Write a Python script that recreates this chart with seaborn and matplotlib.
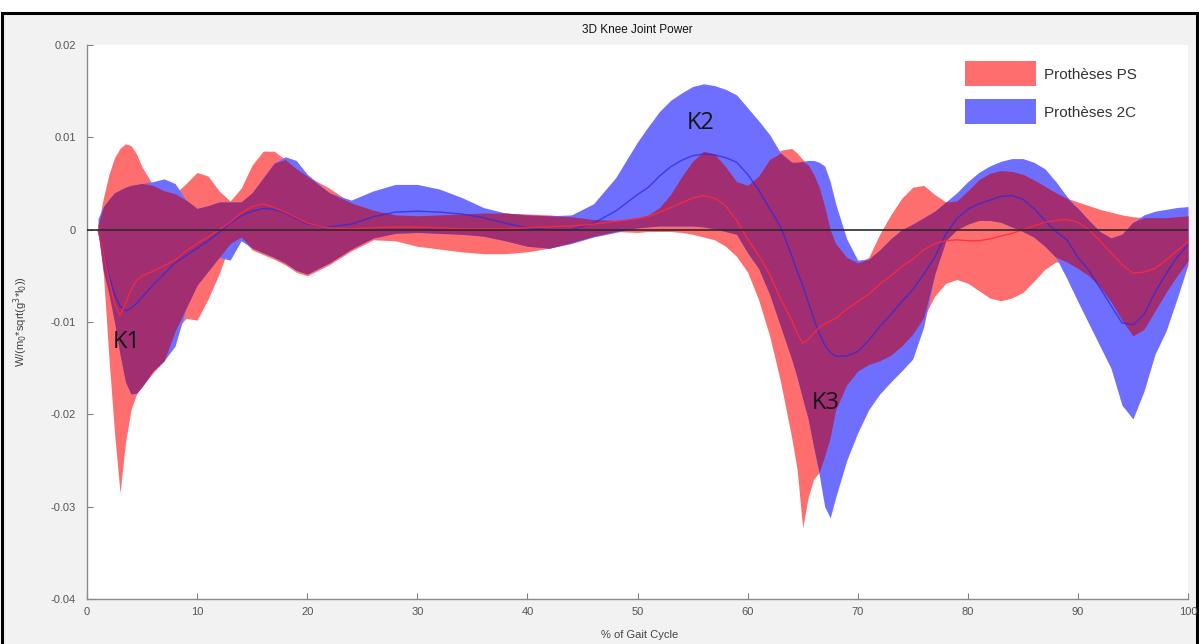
import numpy as np
import pandas as pd
import matplotlib
matplotlib.use("Agg")
import matplotlib.pyplot as plt
import seaborn as sns
from matplotlib.patches import Patch, Rectangle

# ---------------- data ----------------
gait = [1, 1.5, 2, 2.5, 3, 3.5, 4, 4.5, 5, 6, 7, 8, 9, 10, 11, 12, 13, 14, 15, 16, 17, 18, 19, 20,
        22, 24, 26, 28, 30, 32, 34, 36, 38, 40, 42, 44, 46, 48, 50,
        51, 52, 53, 54, 55, 56, 57, 58, 59, 60, 61, 62, 63, 64,
        64.5, 65, 65.5, 66, 66.5, 67, 67.5, 68,
        69, 70, 71, 72, 73, 74, 75, 76, 77, 78, 79, 80, 81, 82, 83, 84, 85, 86, 87, 88, 89, 90,
        91, 92, 93, 94, 95, 96, 97, 98, 99, 100]

ps_upper = [0.0005, 0.0035, 0.0060, 0.0078, 0.0088, 0.0093, 0.0091, 0.0082, 0.0068, 0.0048, 0.0042, 0.0039,
            0.0050, 0.0062, 0.0058, 0.0042, 0.0031, 0.0045, 0.0070, 0.0085, 0.0085, 0.0076, 0.0066, 0.0058,
            0.0045, 0.0029, 0.0021, 0.0016, 0.0015, 0.0016, 0.0017, 0.0018, 0.0018, 0.0017, 0.0016, 0.0014,
            0.0011, 0.0010, 0.0013,
            0.0016, 0.0024, 0.0038, 0.0057, 0.0074, 0.0085, 0.0082, 0.0068, 0.0052, 0.0048, 0.0058, 0.0076,
            0.0086, 0.0088,
            0.0083, 0.0076, 0.0070, 0.0060, 0.0046, 0.0025, 0.0000, -0.0015,
            -0.0030, -0.0036, -0.0030, -0.0005, 0.0016, 0.0034, 0.0046, 0.0048, 0.0038, 0.0030, 0.0031, 0.0042,
            0.0054, 0.0061, 0.0064, 0.0063, 0.0060, 0.0054, 0.0047, 0.0040, 0.0034, 0.0030,
            0.0026, 0.0022, 0.0019, 0.0016, 0.0014, 0.0013, 0.0013, 0.0013, 0.0014, 0.0015]

ps_lower = [0.0000, -0.0050, -0.0140, -0.0220, -0.0285, -0.0230, -0.0195, -0.0178, -0.0170, -0.0155, -0.0142,
            -0.0110, -0.0096, -0.0098, -0.0075, -0.0048, -0.0015, -0.0008, -0.0022, -0.0027, -0.0032, -0.0038,
            -0.0046, -0.0050,
            -0.0038, -0.0023, -0.0011, -0.0012, -0.0018, -0.0021, -0.0024, -0.0026, -0.0026, -0.0024, -0.0020,
            -0.0014, -0.0007, -0.0002, -0.0003,
            -0.0002, -0.0002, -0.0002, -0.0003, -0.0005, -0.0008, -0.0011, -0.0018, -0.0029, -0.0046, -0.0076,
            -0.0115, -0.0165, -0.0225,
            -0.0260, -0.0323, -0.0290, -0.0270, -0.0263, -0.0245, -0.0225, -0.0195,
            -0.0168, -0.0153, -0.0146, -0.0142, -0.0136, -0.0126, -0.0113, -0.0095, -0.0072, -0.0058, -0.0054,
            -0.0058, -0.0066, -0.0074, -0.0077, -0.0074, -0.0068, -0.0056, -0.0043, -0.0035, -0.0035, -0.0042,
            -0.0050, -0.0062, -0.0078, -0.0098, -0.0115, -0.0108, -0.0088, -0.0068, -0.0050, -0.0034]

ps_mean = [0.0000, -0.0025, -0.0055, -0.0080, -0.0093, -0.0080, -0.0065, -0.0055, -0.0050, -0.0045, -0.0039,
           -0.0033, -0.0023, -0.0015, -0.0008, 0.0000, 0.0008, 0.0018, 0.0025, 0.0028, 0.0024, 0.0019, 0.0013,
           0.0007,
           0.0002, 0.0001, 0.0002, 0.0003, 0.0003, 0.0002, 0.0001, 0.0001, 0.0001, 0.0002, 0.0003, 0.0004,
           0.0006, 0.0009, 0.0012,
           0.0014, 0.0019, 0.0024, 0.0029, 0.0034, 0.0037, 0.0034, 0.0026, 0.0010, -0.0010, -0.0028, -0.0048,
           -0.0075, -0.0098,
           -0.0112, -0.0123, -0.0119, -0.0112, -0.0106, -0.0102, -0.0099, -0.0096,
           -0.0086, -0.0078, -0.0070, -0.0059, -0.0050, -0.0040, -0.0032, -0.0022, -0.0015, -0.0012, -0.0011,
           -0.0012, -0.0012, -0.0010, -0.0007, -0.0004, 0.0000, 0.0004, 0.0008, 0.0010, 0.0011, 0.0008,
           0.0000, -0.0012, -0.0025, -0.0038, -0.0047, -0.0046, -0.0042, -0.0033, -0.0023, -0.0013]

c2_upper = [0.0012, 0.0025, 0.0033, 0.0040, 0.0043, 0.0046, 0.0048, 0.0049, 0.0050, 0.0052, 0.0055, 0.0050,
            0.0032, 0.0023, 0.0026, 0.0030, 0.0030, 0.0030, 0.0040, 0.0056, 0.0072, 0.0079, 0.0075, 0.0060,
            0.0040, 0.0032, 0.0042, 0.0049, 0.0049, 0.0044, 0.0035, 0.0024, 0.0018, 0.0016, 0.0015, 0.0016,
            0.0028, 0.0056, 0.0095,
            0.0112, 0.0128, 0.0140, 0.0148, 0.0155, 0.0158, 0.0156, 0.0152, 0.0146, 0.0132, 0.0118, 0.0103,
            0.0083, 0.0073,
            0.0073, 0.0074, 0.0075, 0.0075, 0.0073, 0.0069, 0.0052, 0.0028,
            -0.0010, -0.0033, -0.0032, -0.0022, -0.0010, 0.0000, 0.0006, 0.0013, 0.0020, 0.0030, 0.0040,
            0.0052, 0.0062, 0.0069, 0.0074, 0.0077, 0.0077, 0.0073, 0.0066, 0.0052, 0.0036, 0.0023,
            0.0010, -0.0002, -0.0009, -0.0005, 0.0008, 0.0016, 0.0020, 0.0022, 0.0024, 0.0025]

c2_lower = [-0.0003, -0.0045, -0.0070, -0.0100, -0.0135, -0.0165, -0.0178, -0.0177, -0.0170, -0.0153, -0.0142,
            -0.0126, -0.0085, -0.0060, -0.0045, -0.0030, -0.0033, -0.0012, -0.0020, -0.0025, -0.0030, -0.0036,
            -0.0044, -0.0048,
            -0.0036, -0.0021, -0.0009, -0.0004, -0.0003, -0.0004, -0.0005, -0.0007, -0.0012, -0.0018, -0.0020,
            -0.0015, -0.0008, -0.0003, 0.0002,
            0.0003, 0.0004, 0.0004, 0.0004, 0.0004, 0.0003, 0.0001, -0.0002, -0.0005, -0.0025, -0.0042,
            -0.0070, -0.0105, -0.0140,
            -0.0160, -0.0183, -0.0205, -0.0235, -0.0265, -0.0300, -0.0312, -0.0290,
            -0.0250, -0.0220, -0.0195, -0.0178, -0.0165, -0.0153, -0.0140, -0.0105, -0.0048, -0.0012, 0.0000,
            0.0006, 0.0010, 0.0010, 0.0008, 0.0003, -0.0002, -0.0008, -0.0018, -0.0030, -0.0053, -0.0078,
            -0.0102, -0.0126, -0.0150, -0.0190, -0.0205, -0.0175, -0.0135, -0.0110, -0.0075, -0.0038]

c2_mean = [0.0000, -0.0025, -0.0050, -0.0070, -0.0083, -0.0088, -0.0085, -0.0080, -0.0073, -0.0060, -0.0048,
           -0.0036, -0.0028, -0.0020, -0.0012, -0.0003, 0.0007, 0.0015, 0.0020, 0.0023, 0.0022, 0.0018, 0.0012,
           0.0006,
           0.0003, 0.0006, 0.0014, 0.0019, 0.0020, 0.0019, 0.0017, 0.0013, 0.0007, 0.0002, 0.0000, 0.0000,
           0.0007, 0.0020, 0.0038,
           0.0046, 0.0058, 0.0068, 0.0075, 0.0080, 0.0082, 0.0081, 0.0078, 0.0073, 0.0060, 0.0043, 0.0023,
           0.0003, -0.0028,
           -0.0045, -0.0060, -0.0078, -0.0096, -0.0112, -0.0125, -0.0133, -0.0137,
           -0.0137, -0.0132, -0.0120, -0.0105, -0.0092, -0.0078, -0.0065, -0.0048, -0.0030, -0.0005, 0.0012,
           0.0022, 0.0028, 0.0032, 0.0036, 0.0037, 0.0033, 0.0023, 0.0010, -0.0002, -0.0011, -0.0030,
           -0.0044, -0.0063, -0.0082, -0.0101, -0.0103, -0.0092, -0.0068, -0.0048, -0.0030, -0.0016]

labels = ["Prothèses PS", "Prothèses 2C"]
x_ticks = [0, 10, 20, 30, 40, 50, 60, 70, 80, 90, 100]
y_ticks = [-0.04, -0.03, -0.02, -0.01, 0, 0.01, 0.02]
y_tick_labels = ["-0.04", "-0.03", "-0.02", "-0.01", "0", "0.01", "0.02"]
peaks = [("K1", 3.6, -0.0122), ("K2", 55.7, 0.0116), ("K3", 67.1, -0.0188)]

# ---------------- style ----------------
sns.set_theme(style="white")
plt.rcParams["font.family"] = ["Liberation Sans", "DejaVu Sans"]

RED = "#ff6e6e"
BLUE = "#6e6eff"
PURPLE = "#a02e70"

W, H = 1199, 644
fig = plt.figure(figsize=(W / 100, H / 100), dpi=100, facecolor="white")
fig.patches.append(Rectangle((2 / W, -0.05), (W - 4) / W, 1 - 13 / H + 0.05,
                             transform=fig.transFigure, facecolor="#f2f2f2",
                             edgecolor="black", lw=2.2, zorder=-10))
ax = fig.add_axes([87 / W, 1 - 599 / H, (1188 - 87) / W, (599 - 45) / H])
ax.set_facecolor("white")

x = np.array(gait)
ru, rl, rm = np.array(ps_upper), np.array(ps_lower), np.array(ps_mean)
bu, bl, bm = np.array(c2_upper), np.array(c2_lower), np.array(c2_mean)

ax.fill_between(x, rl, ru, color=RED, lw=0, zorder=1)
ax.fill_between(x, bl, bu, color=BLUE, lw=0, zorder=1)
lo = np.maximum(rl, bl)
hi = np.minimum(ru, bu)
ax.fill_between(x, lo, hi, where=hi > lo, interpolate=True, color=PURPLE, lw=0, zorder=2)

df_ps = pd.DataFrame({"gait": x, "power": rm})
df_2c = pd.DataFrame({"gait": x, "power": bm})
sns.lineplot(data=df_2c, x="gait", y="power", ax=ax, color="#2a2ae0", lw=1.0, alpha=0.75,
             estimator=None, zorder=3)
sns.lineplot(data=df_ps, x="gait", y="power", ax=ax, color="#ff2a3a", lw=1.0, alpha=0.85,
             estimator=None, zorder=3)

ax.axhline(0, color="#2b2b2b", lw=1.2, zorder=4)

ax.set_xlim(0, 100)
ax.set_ylim(-0.04, 0.02)
ax.set_xticks(x_ticks)
ax.set_xticklabels([str(t) for t in x_ticks])
ax.set_yticks(y_ticks)
ax.set_yticklabels(y_tick_labels)
ax.tick_params(axis="both", direction="in", length=4, width=0.8, color="#808080",
               labelcolor="#555555", labelsize=8, left=True, bottom=True)
ax.tick_params(axis="y", pad=8)
ax.tick_params(axis="x", pad=6)
for s in ["top", "right"]:
    ax.spines[s].set_visible(False)
for s in ["left", "bottom"]:
    ax.spines[s].set_color("#8a8a8a")
    ax.spines[s].set_linewidth(1.0)

ax.set_xlabel("% of Gait Cycle", fontsize=8, color="#444444")
ax.xaxis.set_label_coords((640 - 87) / 1101, (599 - 630) / 554)
ax.set_ylabel(r"W/(m$_0$*sqrt(g$^3$*l$_0$))", fontsize=8, color="#444444")
ax.yaxis.set_label_coords((30 - 87) / 1101, (599 - 322) / 554)
ax.text(0.5, (599 - 30) / 554, "3D Knee Joint Power", transform=ax.transAxes,
        ha="center", va="center", fontsize=8.5, color="#111111")

for name, px, py in peaks:
    ax.text(px, py, name, fontsize=17, ha="center", va="center", color="#151515",
            family=["Open Sans", "DejaVu Sans"], zorder=6)

handles = [Patch(facecolor=RED, edgecolor="none", label=labels[0]),
           Patch(facecolor=BLUE, edgecolor="none", label=labels[1])]
leg = ax.legend(handles=handles, loc="upper left",
                bbox_to_anchor=((950 - 87) / 1101, (599 - 46) / 554),
                frameon=True, facecolor="white", edgecolor="none", framealpha=1,
                fontsize=11, handlelength=4.6, handleheight=2.15, labelspacing=0.85,
                handletextpad=0.55, borderpad=1.0, borderaxespad=0)
for t in leg.get_texts():
    t.set_color("#333333")
leg.set_zorder(7)

fig.savefig("out.png", dpi=100, facecolor=fig.get_facecolor())
